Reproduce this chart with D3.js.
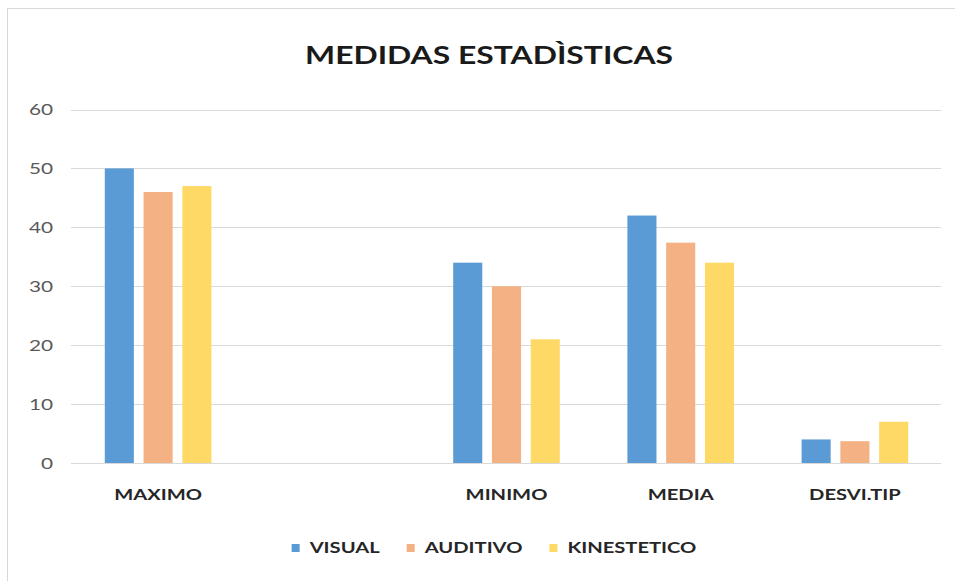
<!DOCTYPE html>
<html>
<head>
<meta charset="utf-8">
<script src="https://cdn.jsdelivr.net/npm/d3@7"></script>
<style>
  body { margin: 0; background: #fff; }
  text { font-family: Lato, "Open Sans", sans-serif; }
</style>
</head>
<body>
<div id="chart"></div>
<script>
// chart data
const categories = ["MAXIMO", "", "MINIMO", "MEDIA", "DESVI.TIP"];
const seriesNames = ["VISUAL", "AUDITIVO", "KINESTETICO"];
const visual = [50, null, 34, 42, 4];
const auditivo = [46, null, 30, 37.4, 3.7];
const kinestetico = [47, null, 21, 34, 7];
const yTicks = [0, 10, 20, 30, 40, 50, 60];

const colors = ["#5B9BD5", "#F4B183", "#FFD966"];
const seriesValues = [visual, auditivo, kinestetico];

const W = 955, H = 581;
const stretch = 1.3; // text in the picture is a bit wider than tall

const svg = d3.select("#chart").append("svg")
  .attr("width", W)
  .attr("height", H);

// chart frame (only top/left edges show)
svg.append("rect")
  .attr("x", 7.5).attr("y", 8.5)
  .attr("width", 1000).attr("height", 1000)
  .attr("fill", "none")
  .attr("stroke", "#D9D9D9");

// scales
const x = d3.scaleBand()
  .domain(categories.map((c, i) => i))
  .range([71, 942])
  .paddingInner(0.388)
  .paddingOuter(0.194);

const xs = d3.scaleBand()
  .domain(seriesNames)
  .range([0, x.bandwidth()])
  .paddingInner(0.25)
  .paddingOuter(0);

const y = d3.scaleLinear()
  .domain([0, 60])
  .range([463, 109.5]);

// helper for wide text
function wideText(parent, tx, ty, str, anchor) {
  return parent.append("g")
    .attr("transform", `translate(${tx},${ty}) scale(${stretch},1)`)
    .append("text")
    .attr("text-anchor", anchor)
    .attr("dy", "0.35em")
    .text(str);
}

// gridlines
svg.append("g").selectAll("line")
  .data(yTicks)
  .enter().append("line")
  .attr("x1", 71).attr("x2", 941)
  .attr("y1", d => Math.round(y(d)) + 0.5)
  .attr("y2", d => Math.round(y(d)) + 0.5)
  .attr("stroke", "#D9D9D9")
  .attr("stroke-width", 1);

// y tick labels
const yLab = svg.append("g")
  .style("font-size", "16px")
  .style("fill", "#595959");
yTicks.forEach(t => wideText(yLab, 53, y(t), t, "end"));

// bars
seriesNames.forEach((s, si) => {
  svg.append("g").selectAll("rect")
    .data(seriesValues[si].map((v, i) => ({ i, v })).filter(d => d.v != null))
    .enter().append("rect")
    .attr("x", d => x(d.i) + xs(s))
    .attr("y", d => y(d.v))
    .attr("width", xs.bandwidth())
    .attr("height", d => y(0) - y(d.v))
    .attr("fill", colors[si]);
});

// category labels
const xLab = svg.append("g")
  .style("font-size", "15.5px")
  .style("font-weight", "bold")
  .style("fill", "#262626");
categories.forEach((c, i) => wideText(xLab, x(i) + x.bandwidth() / 2, 495, c, "middle"));

// title
const tl = svg.append("g")
  .style("font-size", "24.5px")
  .style("font-weight", "bold")
  .style("fill", "#1a1a1a");
wideText(tl, 489, 55, "MEDIDAS ESTADÌSTICAS", "middle");

// legend
const leg = svg.append("g")
  .style("font-size", "15.5px")
  .style("font-weight", "bold")
  .style("fill", "#262626");
let lx = 0;
seriesNames.forEach((s, si) => {
  const g = leg.append("g");
  g.append("rect")
    .attr("x", lx).attr("y", -4)
    .attr("width", 8).attr("height", 8)
    .attr("fill", colors[si]);
  const t = wideText(g, lx + 18, 0, s, "start");
  const w = t.node().getComputedTextLength() * stretch;
  lx += 18 + w + 27;
});
const legW = lx - 27;
leg.attr("transform", `translate(${494 - legW / 2},548)`);
</script>
</body>
</html>
